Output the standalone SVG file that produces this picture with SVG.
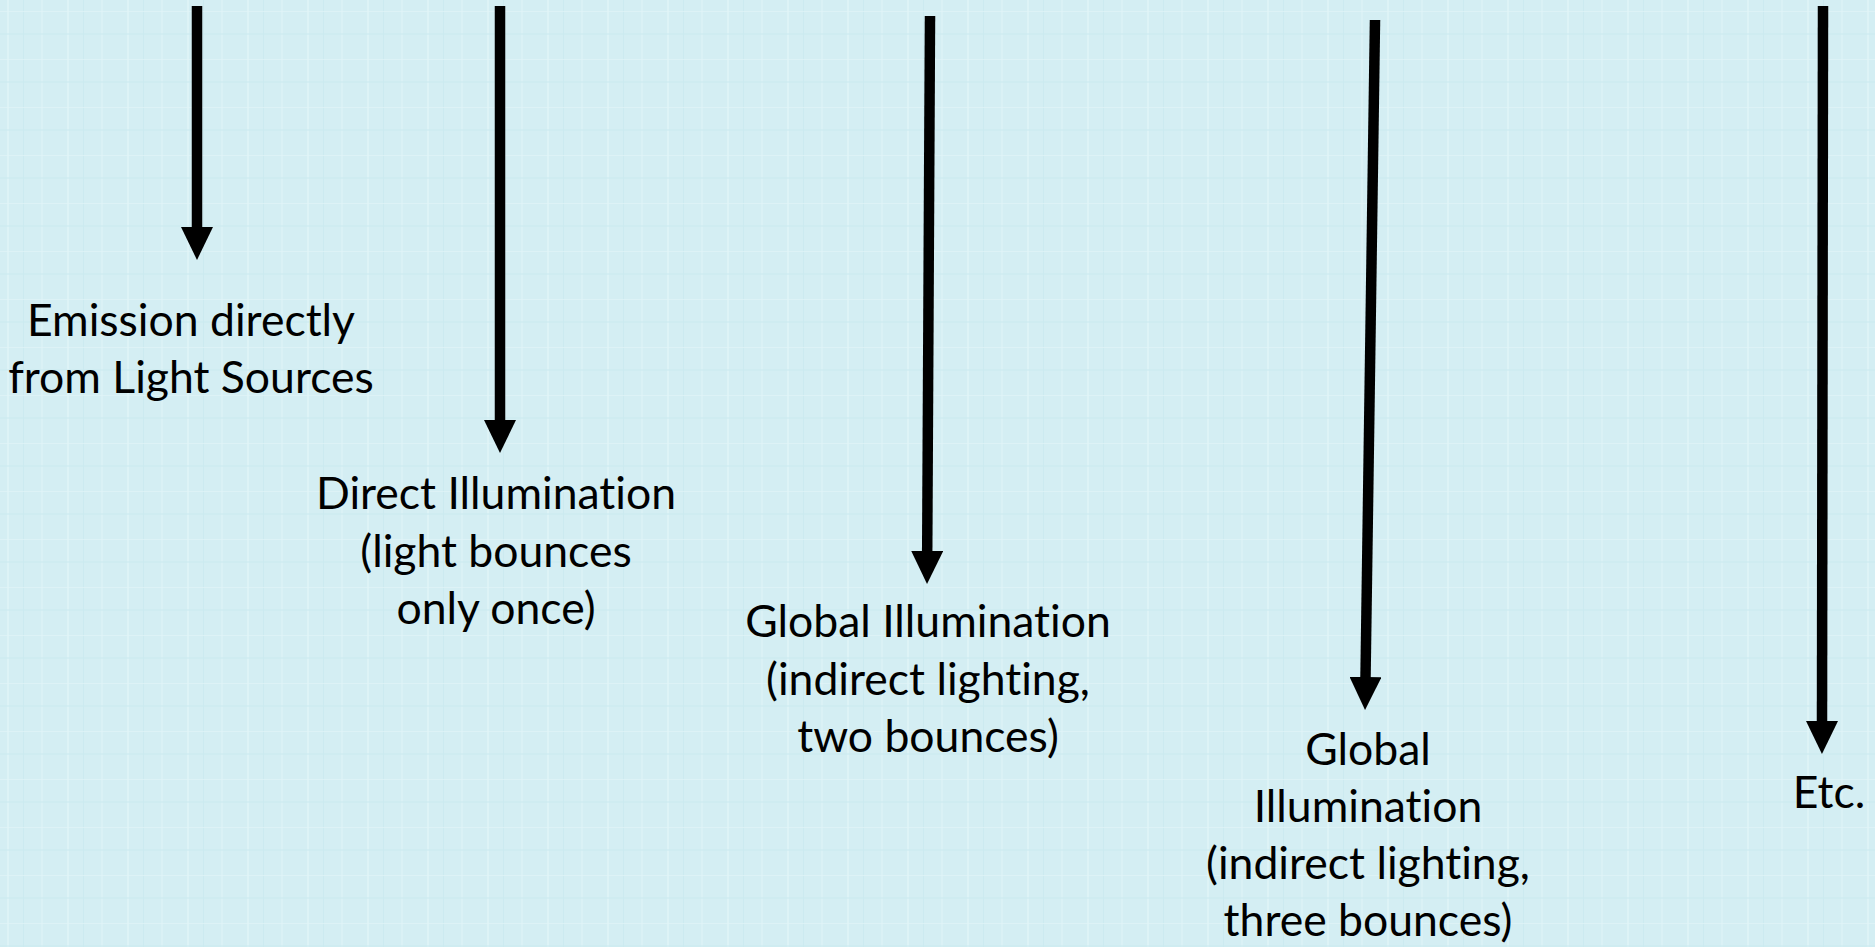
<svg xmlns="http://www.w3.org/2000/svg" width="1875" height="947" viewBox="0 0 1875 947">
  <defs>
    <pattern id="tex" width="60" height="48" patternUnits="userSpaceOnUse">
      <rect width="60" height="48" fill="#d4eef3"/>
      <rect x="7" y="0" width="2" height="48" fill="#e2f5f8" opacity="0.7"/>
      <rect x="23" y="0" width="1" height="48" fill="#c6e8ee" opacity="0.6"/>
      <rect x="41" y="0" width="2" height="48" fill="#e0f4f7" opacity="0.5"/>
      <rect x="0" y="11" width="60" height="1" fill="#e2f5f8" opacity="0.6"/>
      <rect x="0" y="33" width="60" height="2" fill="#c9e9ef" opacity="0.5"/>
    </pattern>
    <marker id="head" markerUnits="userSpaceOnUse" markerWidth="33" markerHeight="32" viewBox="0 0 33 32" refX="1" refY="16" orient="auto">
      <path d="M0,0 L33,16 L0,32 Z" fill="#000"/>
    </marker>
  </defs>
  <style>
    .lbl { font-family: Lato, "Open Sans", sans-serif; font-size: 44.5px; fill: #000; text-anchor: middle; font-variant-ligatures: none; font-feature-settings: "liga" 0, "clig" 0; }
    .arr { stroke: #000; stroke-width: 10.5; fill: none; marker-end: url(#head); }
  </style>
  <rect width="1875" height="947" fill="url(#tex)"/>
  <g id="connectors">
    <line class="arr" x1="197" y1="6" x2="197" y2="228"/>
    <line class="arr" x1="500" y1="6" x2="500" y2="421"/>
    <line class="arr" x1="930" y1="16" x2="927.2" y2="552"/>
    <line class="arr" x1="1375" y1="20" x2="1365.5" y2="678"/>
    <line class="arr" x1="1823" y1="6" x2="1822" y2="722"/>
  </g>
  <g id="emission">
    <text class="lbl" x="191" y="336">Emission directly</text>
    <text class="lbl" x="191" y="393">from Light Sources</text>
  </g>
  <g id="direct">
    <text class="lbl" x="496" y="509">Direct Illumination</text>
    <text class="lbl" x="496" y="567">(light bounces</text>
    <text class="lbl" x="496" y="624">only once)</text>
  </g>
  <g id="global2">
    <text class="lbl" x="928" y="637">Global Illumination</text>
    <text class="lbl" x="928" y="695">(indirect lighting,</text>
    <text class="lbl" x="928" y="752">two bounces)</text>
  </g>
  <g id="global3">
    <text class="lbl" x="1368" y="765">Global</text>
    <text class="lbl" x="1368" y="822">Illumination</text>
    <text class="lbl" x="1368" y="879">(indirect lighting,</text>
    <text class="lbl" x="1368" y="936">three bounces)</text>
  </g>
  <g id="etc">
    <text class="lbl" x="1829" y="808">Etc.</text>
  </g>
</svg>
